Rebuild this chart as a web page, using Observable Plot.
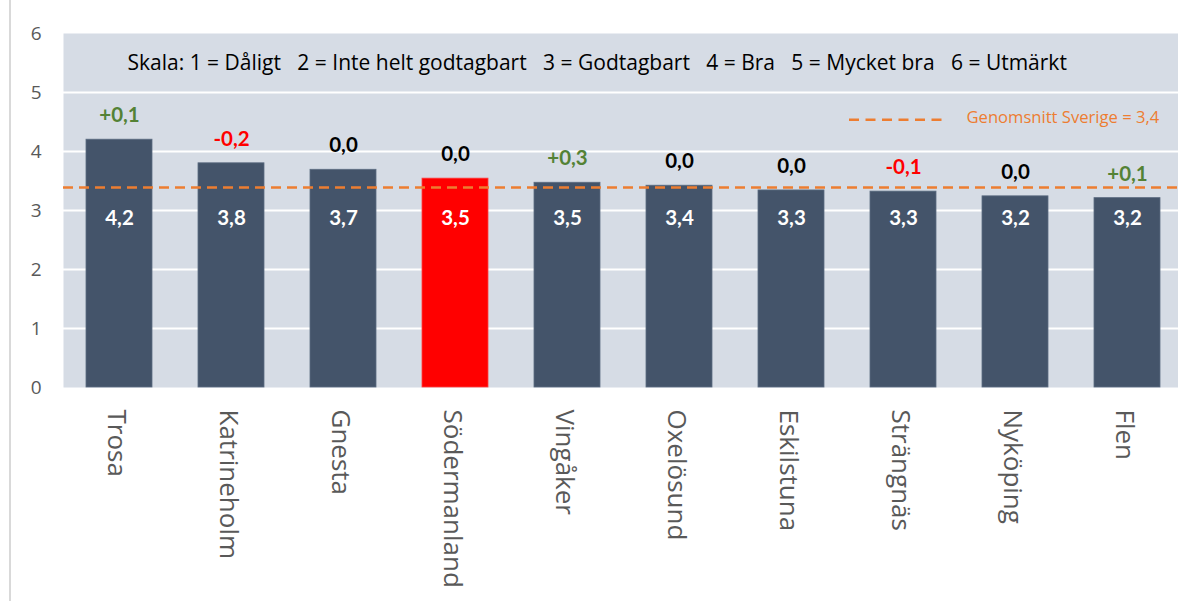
<!DOCTYPE html>
<html>
<head>
<meta charset="utf-8">
<script src="https://cdn.jsdelivr.net/npm/d3@7"></script>
<script src="https://cdn.jsdelivr.net/npm/@observablehq/plot@0.6"></script>
<style>
  html, body { margin: 0; padding: 0; background: #fff; }
  #wrap { position: relative; width: 1178px; height: 601px; overflow: hidden; }
  #edge { position: absolute; left: 9px; top: 0; width: 2px; height: 601px; background: #d9d9d9; }
</style>
</head>
<body>
<div id="wrap"><div id="edge"></div></div>
<script>
const kommuner = ["Trosa", "Katrineholm", "Gnesta", "Södermanland", "Vingåker", "Oxelösund", "Eskilstuna", "Strängnäs", "Nyköping", "Flen"];
const betyg = [4.20, 3.80, 3.69, 3.54, 3.47, 3.42, 3.34, 3.32, 3.24, 3.21];
const forandring = [0.1, -0.2, 0.0, 0.0, 0.3, 0.0, 0.0, -0.1, 0.0, 0.1];
const markerad = "Södermanland";
const sverigeSnitt = 3.39;
const sverigeText = "Genomsnitt Sverige = 3,4";
const yTicks = [0, 1, 2, 3, 4, 5, 6];
const gridTicks = [1, 2, 3, 4, 5];
const skalaText = "Skala: 1 = Dåligt   2 = Inte helt godtagbart   3 = Godtagbart   4 = Bra   5 = Mycket bra   6 = Utmärkt";

const data = kommuner.map((k, i) => ({kommun: k, betyg: betyg[i], diff: forandring[i]}));
const fmt1 = v => v.toFixed(1).replace(".", ",");
const fmtDiff = v => Math.abs(v) < 1e-9 ? "0,0" : (v > 0 ? "+" : "-") + Math.abs(v).toFixed(1).replace(".", ",");
const diffColor = v => Math.abs(v) < 1e-9 ? "#000000" : (v > 0 ? "#548235" : "#FF0000");

const W = 1178, H = 601, mL = 63, mT = 33, mB = 214;

const chart = Plot.plot({
  width: W,
  height: H,
  marginLeft: mL,
  marginRight: 0,
  marginTop: mT,
  marginBottom: mB,
  style: {background: "transparent", fontFamily: "Open Sans, sans-serif", overflow: "visible"},
  x: {domain: kommuner, range: [mL, 1184], paddingInner: 0.41, paddingOuter: 0.205},
  y: {domain: [0, 6]},
  marks: [
    Plot.frame({fill: "#D6DCE5", stroke: null}),
    Plot.gridY(gridTicks, {stroke: "#ffffff", strokeOpacity: 1, strokeWidth: 2}),
    Plot.barY(data, {x: "kommun", y: "betyg", fill: d => d.kommun === markerad ? "#FF0000" : "#44546A", stroke: d => d.kommun === markerad ? "#FF4040" : "#5d6d82", strokeWidth: 0.8}),
    Plot.ruleY([sverigeSnitt], {stroke: "#ED7D31", strokeWidth: 2.5, strokeDasharray: "10,6"}),
    Plot.ruleY([4.54], {stroke: "#ED7D31", strokeWidth: 2.5, strokeDasharray: "10,6.5", insetLeft: 786, insetRight: 233}),
    Plot.text([sverigeText], {y: 4.57, frameAnchor: "left", dx: 903, textAnchor: "start", fill: "#ED7D31", fontSize: 16.6, fontFamily: "Open Sans, sans-serif"}),
    Plot.text([skalaText], {y: 5.5, frameAnchor: "left", dx: 64, textAnchor: "start", fill: "#000000", fontSize: 21, fontFamily: "Open Sans, sans-serif"}),
    Plot.text(data, {x: "kommun", y: () => 2.86, text: d => fmt1(d.betyg), fill: "#ffffff", fontSize: 20.5, fontWeight: "bold", fontFamily: "Lato, sans-serif"}),
    Plot.text(data, {x: "kommun", y: "betyg", dy: -24, text: d => fmtDiff(d.diff), fill: d => diffColor(d.diff), fontSize: 20.5, fontWeight: "bold", fontFamily: "Lato, sans-serif"}),
    Plot.axisY({ticks: yTicks, tickFormat: d3.format("d"), tickSize: 0, tickPadding: 22, fontSize: 19, fill: "#595959", label: null, fontFamily: "Open Sans, sans-serif"}),
    Plot.axisX({tickRotate: 90, tickSize: 0, tickPadding: 22, fontSize: 26, fill: "#595959", label: null, fontFamily: "Open Sans, sans-serif", dx: -3})
  ]
});
chart.style.position = "absolute";
chart.style.left = "0px";
chart.style.top = "0px";
d3.select(chart).selectAll("text").style("white-space", "pre");
document.getElementById("wrap").appendChild(chart);
</script>
</body>
</html>
